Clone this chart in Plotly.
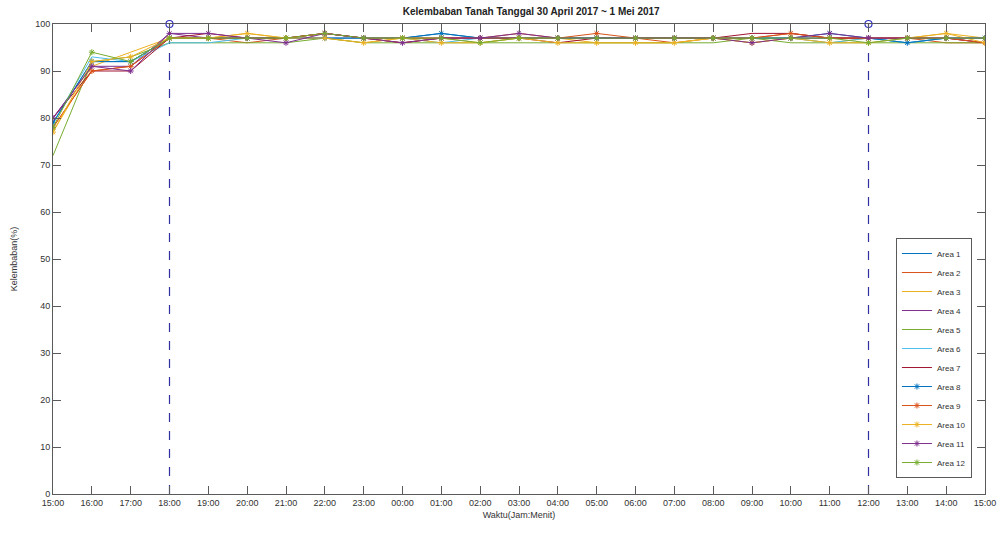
import plotly.graph_objects as go

time_labels = ["15:00", "16:00", "17:00", "18:00", "19:00", "20:00", "21:00", "22:00",
               "23:00", "00:00", "01:00", "02:00", "03:00", "04:00", "05:00", "06:00",
               "07:00", "08:00", "09:00", "10:00", "11:00", "12:00", "13:00", "14:00", "15:00"]
x_idx = list(range(len(time_labels)))

area1 = [79, 92, 92, 97, 97, 97, 97, 98, 97, 97, 98, 97, 97, 97, 97, 97, 97, 97, 97, 97, 97, 97, 96, 97, 97]
area2 = [78, 90, 91, 97, 97, 96, 97, 98, 97, 96, 97, 97, 98, 97, 97, 97, 96, 97, 97, 98, 97, 97, 97, 96, 96]
area3 = [77, 91, 94, 97, 97, 98, 97, 97, 96, 97, 97, 96, 97, 97, 96, 96, 96, 97, 96, 97, 96, 97, 97, 98, 97]
area4 = [80, 91, 91, 98, 97, 97, 97, 97, 97, 97, 97, 97, 97, 97, 97, 97, 97, 97, 97, 97, 97, 97, 97, 97, 96]
area5 = [72, 92, 93, 96, 96, 96, 96, 97, 96, 96, 96, 96, 96, 96, 96, 96, 96, 96, 97, 96, 96, 96, 96, 96, 96]
area6 = [79, 93, 92, 96, 96, 97, 97, 97, 97, 97, 96, 97, 97, 97, 97, 97, 97, 97, 97, 97, 96, 97, 96, 97, 97]
area7 = [80, 90, 90, 97, 98, 97, 97, 98, 97, 96, 97, 97, 97, 96, 97, 97, 97, 97, 98, 98, 97, 97, 97, 97, 96]
area8 = [79, 92, 92, 97, 97, 97, 97, 97, 97, 97, 98, 97, 97, 97, 97, 97, 97, 97, 97, 97, 98, 97, 96, 97, 97]
area9 = [78, 90, 91, 97, 97, 97, 97, 98, 97, 97, 97, 97, 97, 97, 98, 97, 97, 97, 97, 98, 97, 97, 97, 97, 96]
area10 = [77, 92, 93, 97, 97, 98, 97, 97, 96, 97, 96, 96, 97, 96, 96, 96, 96, 97, 96, 97, 96, 96, 97, 98, 96]
area11 = [80, 91, 90, 98, 98, 97, 96, 98, 97, 96, 97, 97, 98, 97, 97, 97, 97, 97, 96, 97, 98, 97, 97, 97, 97]
area12 = [78, 94, 92, 97, 97, 97, 97, 98, 97, 97, 97, 96, 97, 97, 97, 97, 97, 97, 97, 97, 97, 96, 97, 97, 97]

series_names = ["Area 1", "Area 2", "Area 3", "Area 4", "Area 5", "Area 6",
                "Area 7", "Area 8", "Area 9", "Area 10", "Area 11", "Area 12"]
series_values = [area1, area2, area3, area4, area5, area6,
                 area7, area8, area9, area10, area11, area12]

# vertical marker lines (time index, range)
marker_times = [3, 21]
marker_range = [0, 100]

colors = ["#0072BD", "#D95319", "#EDB120", "#7E2F8E", "#77AC30", "#4DBEEE",
          "#A2142F", "#0072BD", "#D95319", "#EDB120", "#7E2F8E", "#77AC30"]

fig = go.Figure()

for t in marker_times:
    fig.add_trace(go.Scatter(
        x=[t, t], y=marker_range, mode="lines",
        line=dict(color="#3030A0", width=1.2, dash="dash"),
        showlegend=False, hoverinfo="skip"))
    fig.add_trace(go.Scatter(
        x=[t], y=[marker_range[1]], mode="markers",
        marker=dict(symbol="circle-open", size=7, color="#3030C0", line=dict(width=1.2)),
        showlegend=False, hoverinfo="skip", cliponaxis=False))

for i, (name, vals) in enumerate(zip(series_names, series_values)):
    if i < 7:
        fig.add_trace(go.Scatter(
            x=x_idx, y=vals, name=name, mode="lines",
            line=dict(color=colors[i], width=1)))
    else:
        fig.add_trace(go.Scatter(
            x=x_idx, y=vals, name=name, mode="lines+markers",
            line=dict(color=colors[i], width=1),
            marker=dict(symbol="asterisk-open", size=5, color=colors[i],
                        line=dict(width=1, color=colors[i]))))

axis_common = dict(
    showline=True, linecolor="#5a5a5a", linewidth=1, mirror="ticks",
    ticks="inside", ticklen=8, tickcolor="#5a5a5a", tickwidth=1,
    showgrid=False, zeroline=False,
    tickfont=dict(family="Liberation Sans, Arial, sans-serif", size=9, color="#333"),
)

fig.update_layout(
    width=1008, height=535,
    margin=dict(l=53, r=18, t=24, b=41),
    paper_bgcolor="white", plot_bgcolor="white",
    font=dict(family="Liberation Sans, Arial, sans-serif", size=9, color="#333"),
    title=dict(text="<b>Kelembaban Tanah Tanggal 30 April 2017 ~ 1 Mei 2017</b>",
               x=0.527, xanchor="center", y=0.985, yanchor="top",
               font=dict(size=10, color="#222")),
    xaxis=dict(range=[0, 24], tickmode="array", tickvals=x_idx, ticktext=time_labels,
               title=dict(text="Waktu(Jam:Menit)", standoff=4,
                          font=dict(size=9, color="#333")),
               **axis_common),
    yaxis=dict(range=[0, 100], tickmode="array", tickvals=list(range(0, 101, 10)),
               title=dict(text="Kelembaban(%)", standoff=16,
                          font=dict(size=9, color="#333")),
               **axis_common),
    legend=dict(x=0.986, y=0.034, xanchor="right", yanchor="bottom",
                bgcolor="white", bordercolor="#5a5a5a", borderwidth=1,
                font=dict(size=8, color="#333"), tracegroupgap=0,
                itemwidth=30),
    showlegend=True,
)

fig.write_html("out.html")
